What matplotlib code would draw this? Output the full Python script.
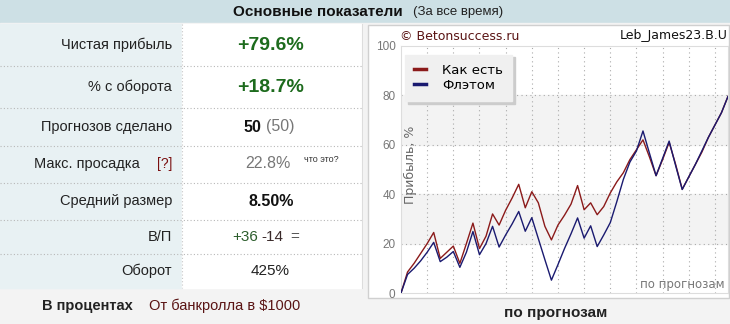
import matplotlib
matplotlib.use("Agg")
import matplotlib.pyplot as plt
from matplotlib.patches import Rectangle
from matplotlib.lines import Line2D

plt.rcParams['font.family'] = ['Liberation Sans', 'DejaVu Sans']

# ---- data ----
title_main = "Основные показатели"
title_sub = "(За все время)"

row_labels = ["Чистая прибыль", "% с оборота", "Прогнозов сделано", "Макс. просадка",
              "Средний размер", "В/П", "Оборот"]
net_profit = "+79.6%"
turnover_pct = "+18.7%"
bets_made = "50"
bets_total = "(50)"
max_drawdown = "22.8%"
avg_size = "8.50%"
wins, losses = "+36", "-14"
turnover = "425%"

forecasts = list(range(0, 51))
as_is = [0, 8.5, 12, 16, 20, 24.5, 14, 16.5, 19, 12,
         20, 28.3, 18, 23, 32, 27.5, 33.5, 38.5, 44, 34.5,
         41, 36.5, 27, 21.5, 27.5, 31.5, 36, 43.5, 33.7, 36.5,
         31.7, 35, 40.5, 45, 48.7, 54, 58, 62, 55, 47.5,
         54, 61, 52, 42, 47, 52, 57, 63, 68, 73, 79.6]
flat = [0, 7.5, 10, 13, 16.5, 20.5, 12.7, 14.5, 16.8, 10.4,
        16.5, 24.9, 15.5, 20, 27, 18.6, 23.5, 28, 33, 25,
        30.5, 22, 13.5, 5.2, 11.5, 18, 24, 30.4, 22.2, 27.2,
        18.8, 23.5, 28.5, 37, 46, 53, 57.5, 65.6, 56.5, 47.5,
        54.5, 61.5, 51.5, 41.9, 47, 52, 57.5, 63, 68, 73, 79.6]
y_ticks = [0, 20, 40, 60, 80, 100]

W, H = 730, 324
fig = plt.figure(figsize=(W / 100, H / 100), dpi=100)

# background canvas in pixel coordinates
bg = fig.add_axes([0, 0, 1, 1])
bg.set_xlim(0, W)
bg.set_ylim(H, 0)
bg.axis('off')

bg.add_patch(Rectangle((0, 0), W, 23, color='#cde0e5', zorder=0))
bg.add_patch(Rectangle((0, 23), W, H - 23, color='#f3f3f3', zorder=0))
bg.add_patch(Rectangle((0, 24), 182, 264, color='#e8f1f3', zorder=1))
bg.add_patch(Rectangle((182, 24), 180, 264, color='white', zorder=1))
bg.add_patch(Rectangle((368, 25), 361, 273, facecolor='white', edgecolor='#d0d0d0', lw=1, zorder=1))

bg.text(403, 12, title_main, fontsize=11, fontweight='bold', ha='right', va='center', color='#111')
bg.text(413, 12, title_sub, fontsize=9.5, ha='left', va='center', color='#222')

row_edges = [66, 108, 146, 183, 220, 254]
for y in row_edges:
    bg.plot([0, 362], [y, y], color='#b8b8b8', lw=0.8, ls=(0, (1, 2)), zorder=2)
bg.plot([182, 182], [24, 288], color='#c8c8c8', lw=0.8, ls=(0, (1, 2)), zorder=2)
bg.plot([362, 362], [24, 288], color='#dddddd', lw=0.8, zorder=2)

row_y = [45, 87, 127, 164, 201, 237, 271]
for lab, y in zip(row_labels, row_y):
    xr = 140 if lab.startswith("Макс") else 172
    bg.text(xr, y, lab, fontsize=10.5, ha='right', va='center', color='#222', zorder=3)
bg.text(172, 164, "[?]", fontsize=10, ha='right', va='center', color='#7a1010', zorder=3)

green = '#1d6b1d'
bg.text(271, 45, net_profit, fontsize=14, fontweight='bold', ha='center', va='center', color=green, zorder=3)
bg.text(271, 87, turnover_pct, fontsize=14, fontweight='bold', ha='center', va='center', color=green, zorder=3)
bg.text(261, 127, bets_made, fontsize=11.5, fontweight='bold', ha='right', va='center', color='#111', zorder=3)
bg.text(266, 127, bets_total, fontsize=11.5, ha='left', va='center', color='#777', zorder=3)
bg.text(291, 164, max_drawdown, fontsize=11.5, ha='right', va='center', color='#777', zorder=3)
bg.text(304, 160, "что это?", fontsize=6.5, ha='left', va='center', color='#333', zorder=3)
bg.text(271, 201, avg_size, fontsize=11.5, fontweight='bold', ha='center', va='center', color='#111', zorder=3)
bg.text(232, 237, wins, fontsize=11, ha='left', va='center', color='#2d5e2d', zorder=3)
bg.text(261, 237, losses, fontsize=11, ha='left', va='center', color='#3a2a2a', zorder=3)
bg.text(290, 237, "=", fontsize=11, ha='left', va='center', color='#555', zorder=3)
bg.text(270, 271, turnover, fontsize=11, ha='center', va='center', color='#222', zorder=3)

bg.text(87, 306, "В процентах", fontsize=10.5, fontweight='bold', ha='center', va='center', color='#222')
bg.text(225, 306, "От банкролла в $1000", fontsize=10.5, ha='center', va='center', color='#5a1414')
bg.text(556, 313, "по прогнозам", fontsize=11, fontweight='bold', ha='center', va='center', color='#222')

bg.text(400, 36, "© Betonsuccess.ru", family='DejaVu Sans', fontsize=9, ha='left', va='center', color='#5a1414')
bg.text(728, 36, "Leb_James23.B.U", family='DejaVu Sans', fontsize=9, ha='right', va='center', color='#111')

# ---- chart ----
ax = fig.add_axes([401 / W, 1 - 293 / H, 327 / W, 247 / H])
ax.set_xlim(0, 50)
ax.set_ylim(0, 100)
ax.axhspan(20, 40, color='#f3f3f3', zorder=0)
ax.axhspan(60, 80, color='#f3f3f3', zorder=0)
for x in range(4, 50, 4):
    ax.axvline(x, color='#aaaaaa', lw=0.8, ls=(0, (1, 3)), zorder=1)
for y in [20, 40, 60, 80]:
    ax.axhline(y, color='#aaaaaa', lw=0.8, ls=(0, (1, 3)), zorder=1)

ax.plot(forecasts, as_is, color='#8b1a1a', lw=1.0, zorder=3)
ax.plot(forecasts, flat, color='#1a1a70', lw=1.0, zorder=4)

ax.set_xticks([])
ax.set_yticks(y_ticks)
ax.set_yticklabels([str(v) for v in y_ticks], fontsize=8.5, color='#777')
ax.tick_params(axis='y', length=0, pad=4)
for s in ax.spines.values():
    s.set_color('#dddddd')
    s.set_linewidth(0.8)

ax.text(0.03, 0.52, "Прибыль, %", transform=ax.transAxes, rotation=90, family='DejaVu Sans',
        fontsize=9, color='#666', ha='center', va='center')
ax.text(0.99, 0.035, "по прогнозам", transform=ax.transAxes, family='DejaVu Sans',
        fontsize=8.5, color='#777', ha='right', va='center')

handles = [Line2D([], [], color='#8b1a1a', lw=2.5), Line2D([], [], color='#1a1a70', lw=2.5)]
leg = ax.legend(handles, ["Как есть", "Флэтом"], loc='upper left', bbox_to_anchor=(0.012, 0.965),
                prop={'family': 'DejaVu Sans', 'size': 9.5}, handlelength=0.9, handletextpad=1.2,
                labelspacing=0.15, borderpad=0.7, fancybox=False, frameon=True,
                shadow={'color': '#cccccc', 'alpha': 1}, borderaxespad=0)
leg.get_frame().set_facecolor('#f0f0f0')
leg.get_frame().set_edgecolor('#f0f0f0')
leg.get_frame().set_alpha(1)
leg.set_zorder(5)

plt.savefig("out.png", dpi=100)
